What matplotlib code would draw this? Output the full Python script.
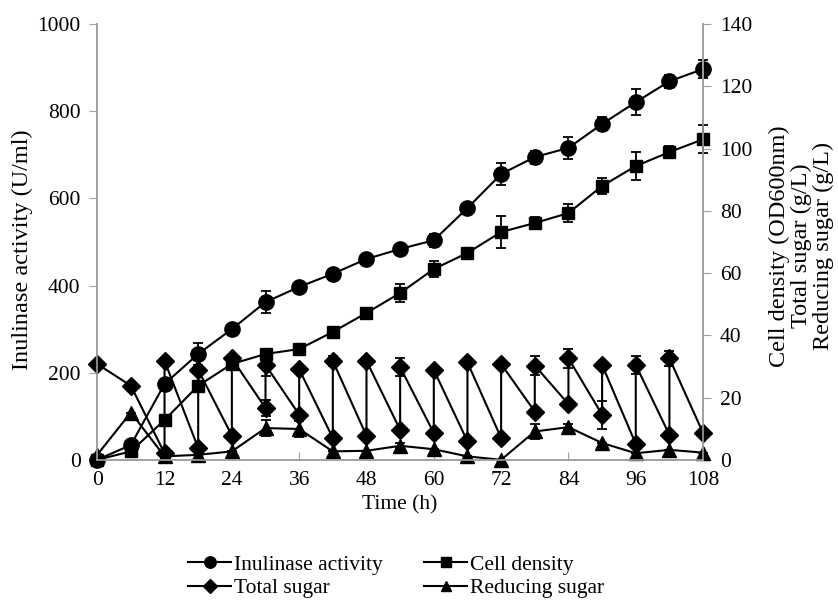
import numpy as np
import matplotlib
matplotlib.use("Agg")
import matplotlib.pyplot as plt
from matplotlib.lines import Line2D

plt.rcParams['font.family'] = ['Liberation Serif', 'DejaVu Serif']

# time points (h)
time = [0, 6, 12, 18, 24, 30, 36, 42, 48, 54, 60, 66, 72, 78, 84, 90, 96, 102, 108]

# Inulinase activity (U/ml), left axis
inulinase = [0, 34, 174, 243, 300, 362, 397, 427, 461, 484, 504, 578, 656, 695, 716, 771, 821, 869, 897]
inulinase_err = [0, 0, 0, 25, 0, 25, 0, 0, 0, 0, 15, 12, 25, 15, 25, 15, 30, 15, 20]

# Cell density (OD600nm), right axis
cell = [0, 2.7, 12.8, 23.8, 30.8, 34.0, 35.6, 41.1, 47.2, 53.6, 61.3, 66.5, 73.2, 76.1, 79.3, 88.0, 94.4, 98.9, 103.0]
cell_err = [0, 0, 0, 0, 0, 0, 0, 0, 1.5, 3, 2.5, 0, 5, 2, 3, 2.5, 4.5, 2, 4.5]

# Total sugar (g/L), sampled before and after each feeding
sugar_time = [0, 6, 12, 12, 18, 18, 24, 24, 30, 30, 36, 36, 42, 42, 48, 48, 54, 54,
              60, 60, 66, 66, 72, 72, 78, 78, 84, 84, 90, 90, 96, 96, 102, 102, 108]
total_sugar = [30.8, 23.8, 2.1, 31.8, 3.8, 28.9, 7.8, 32.6, 16.6, 30.5, 14.5, 29.1, 7.0, 31.8, 7.7, 31.8, 9.6, 29.8,
               8.6, 28.9, 5.9, 31.3, 7.0, 30.8, 15.5, 30.3, 17.9, 32.6, 14.5, 30.5, 5.1, 30.5, 8.0, 32.6, 8.6]
total_sugar_err = [0, 0, 0, 0, 0, 0, 0, 0, 2.5, 3.5, 0, 0, 0, 1.5, 0, 0, 0, 3,
                   0, 0, 0, 0, 0, 1, 0, 3, 0, 3, 4.5, 0, 0, 3, 0, 2.5, 0]

# Reducing sugar (g/L)
reducing = [1.6, 15.2, 1.1, 1.6, 2.7, 10.2, 9.9, 2.7, 2.9, 4.5, 3.4, 1.1, 0.0, 9.1, 10.5, 5.4, 2.1, 3.2, 2.3]
reducing_err = [0, 0, 0, 0, 0, 2.5, 2.5, 0, 0, 0.8, 0, 0, 0, 2.5, 1, 0, 0, 0, 0]

labels = ['Inulinase activity', 'Cell density', 'Total sugar', 'Reducing sugar']
markers = ['o', 's', 'D', '^']
sizes = [11, 9, 9, 10]

fig = plt.figure(figsize=(8.38, 6.05), dpi=100)
ax = fig.add_axes([0.116, 0.240, 0.723, 0.720])
ax2 = ax.twinx()

kw = dict(color='black', lw=1.5, ecolor='black', elinewidth=1.3, capsize=3.5, capthick=1.3)

ax.errorbar(time, inulinase, yerr=inulinase_err, marker=markers[0], ms=sizes[0], **kw)
ax2.errorbar(time, cell, yerr=cell_err, marker=markers[1], ms=sizes[1], **kw)
ax2.errorbar(sugar_time, total_sugar, yerr=total_sugar_err, marker=markers[2], ms=sizes[2], **kw)
ax2.errorbar(time, reducing, yerr=reducing_err, marker=markers[3], ms=sizes[3], **kw)
for a in (ax, ax2):
    for art in a.get_children():
        art.set_clip_on(False)

ax.set_xlim(0, 108)
ax.set_ylim(0, 1000)
ax2.set_ylim(0, 140)
ax.set_xticks(np.arange(0, 109, 12))
ax.set_yticks(np.arange(0, 1001, 200))
ax2.set_yticks(np.arange(0, 141, 20))

grey = '#a0a0a0'
for a in (ax, ax2):
    a.spines['top'].set_visible(False)
    for s in ('left', 'right', 'bottom'):
        a.spines[s].set_color(grey)
        a.spines[s].set_linewidth(1.2)
ax.tick_params(axis='y', direction='out', length=6, color=grey, labelsize=15.5, pad=6)
ax2.tick_params(axis='y', direction='out', length=6, color=grey, labelsize=15.5, pad=6)
ax.tick_params(axis='x', direction='in', length=6, color=grey, labelsize=15.5, pad=8)

ax.set_xlabel('Time (h)', fontsize=15.5, labelpad=4)
fig.text(22 / 838, 1 - 250 / 605, 'Inulinase activity (U/ml)', fontsize=17.5,
         rotation=90, ha='center', va='center')
fig.text(801 / 838, 1 - 246 / 605, 'Cell density (OD600nm)\nTotal sugar (g/L)\nReducing sugar (g/L)',
         fontsize=17.5, rotation=90, ha='center', va='center', multialignment='center',
         linespacing=1.05)

handles = [Line2D([], [], color='black', lw=1.5, marker=m, ms=s * 0.75) for m, s in zip(markers, sizes)]
order = [0, 2, 1, 3]
fig.legend([handles[i] for i in order], [labels[i] for i in order],
           loc='center', bbox_to_anchor=(0.473, 0.047), ncol=2, frameon=False,
           fontsize=15.5, handlelength=2.0, handletextpad=0.15, columnspacing=1.9,
           labelspacing=0.15)

fig.savefig('out.png', dpi=100)
